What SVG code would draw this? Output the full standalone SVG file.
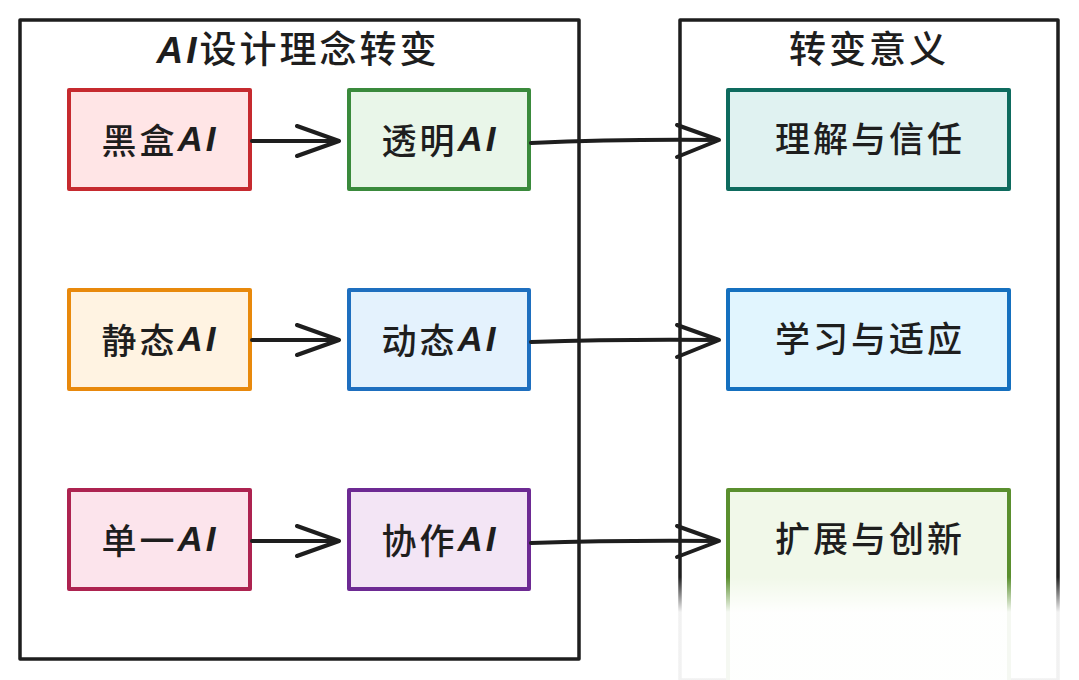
<svg xmlns="http://www.w3.org/2000/svg" width="1079" height="680" viewBox="0 0 1079 680">
  <defs>
    <style>
      .container { fill: none; stroke: #1e1e1e; stroke-width: 3.5; stroke-linejoin: round; }
      .title { font-family: "Noto Sans CJK SC", "Liberation Sans", sans-serif; font-size: 37px; font-weight: 500; letter-spacing: 3px; fill: #1e1e1e; text-anchor: middle; }
      .label { font-family: "Noto Sans CJK SC", "Liberation Sans", sans-serif; font-size: 35px; font-weight: 500; letter-spacing: 3px; fill: #1e1e1e; text-anchor: middle; dominant-baseline: central; }
      .ai { font-family: "Liberation Sans", sans-serif; font-style: italic; font-weight: bold; }
      .node { stroke-width: 4; stroke-linejoin: round; }
      .conn { fill: none; stroke: #1e1e1e; stroke-width: 4; stroke-linecap: round; stroke-linejoin: round; }
    </style>
    <linearGradient id="fade" x1="0" y1="577" x2="0" y2="612" gradientUnits="userSpaceOnUse">
      <stop offset="0" stop-color="#ffffff" stop-opacity="0"/>
      <stop offset="1" stop-color="#ffffff" stop-opacity="0.94"/>
    </linearGradient>
  </defs>
  <rect width="1079" height="680" fill="#ffffff"/>

  <g id="container-left">
    <rect class="container" x="20" y="20" width="559" height="639"/>
    <text class="title" x="298" y="63"><tspan class="ai">AI</tspan>设计理念转变</text>
  </g>
  <g id="container-right">
    <rect class="container" x="680" y="20" width="378" height="660"/>
    <text class="title" x="869" y="63">转变意义</text>
  </g>

  <g id="node-heihe">
    <rect class="node" x="69" y="90" width="181" height="99" fill="#ffe5e6" stroke="#c62a2f"/>
    <text class="label" x="160" y="138">黑盒<tspan class="ai">AI</tspan></text>
  </g>
  <g id="node-touming">
    <rect class="node" x="349" y="90" width="180" height="99" fill="#e9f6e9" stroke="#3a8a3c"/>
    <text class="label" x="440" y="138">透明<tspan class="ai">AI</tspan></text>
  </g>
  <g id="node-jingtai">
    <rect class="node" x="69" y="290" width="181" height="99" fill="#fff3e2" stroke="#e8890c"/>
    <text class="label" x="160" y="338">静态<tspan class="ai">AI</tspan></text>
  </g>
  <g id="node-dongtai">
    <rect class="node" x="349" y="290" width="180" height="99" fill="#e4f2fd" stroke="#1e6fbf"/>
    <text class="label" x="440" y="338">动态<tspan class="ai">AI</tspan></text>
  </g>
  <g id="node-danyi">
    <rect class="node" x="69" y="490" width="181" height="99" fill="#fce4ec" stroke="#ad2350"/>
    <text class="label" x="160" y="538">单一<tspan class="ai">AI</tspan></text>
  </g>
  <g id="node-xiezuo">
    <rect class="node" x="349" y="490" width="180" height="99" fill="#f3e5f5" stroke="#6d2a93"/>
    <text class="label" x="440" y="538">协作<tspan class="ai">AI</tspan></text>
  </g>
  <g id="node-lijie">
    <rect class="node" x="728" y="90" width="281" height="99" fill="#e0f2f1" stroke="#0e6b5e"/>
    <text class="label" x="870" y="136">理解与信任</text>
  </g>
  <g id="node-xuexi">
    <rect class="node" x="728" y="290" width="281" height="99" fill="#e1f5fe" stroke="#1570bf"/>
    <text class="label" x="870" y="336">学习与适应</text>
  </g>
  <g id="node-kuozhan">
    <rect class="node" x="728" y="490" width="281" height="200" fill="#f1f8e9" stroke="#5a8f2e"/>
    <text class="label" x="870" y="536">扩展与创新</text>
  </g>

  <g id="connectors">
    <path class="conn" d="M252 141 L338 141 M297 126 L339 141 L297 156"/>
    <path class="conn" d="M531 143 Q620 139 718 140 M677 125 L719 140 L677 157"/>
    <path class="conn" d="M252 340 L338 340 M297 325 L339 340 L297 355"/>
    <path class="conn" d="M531 342 Q620 339 718 340 M677 325 L719 340 L677 357"/>
    <path class="conn" d="M252 541 L338 541 M297 526 L339 541 L297 556"/>
    <path class="conn" d="M531 543 Q620 540 718 541 M677 526 L719 541 L677 557"/>
  </g>

  <rect x="588" y="575" width="491" height="105" fill="url(#fade)"/>
</svg>
